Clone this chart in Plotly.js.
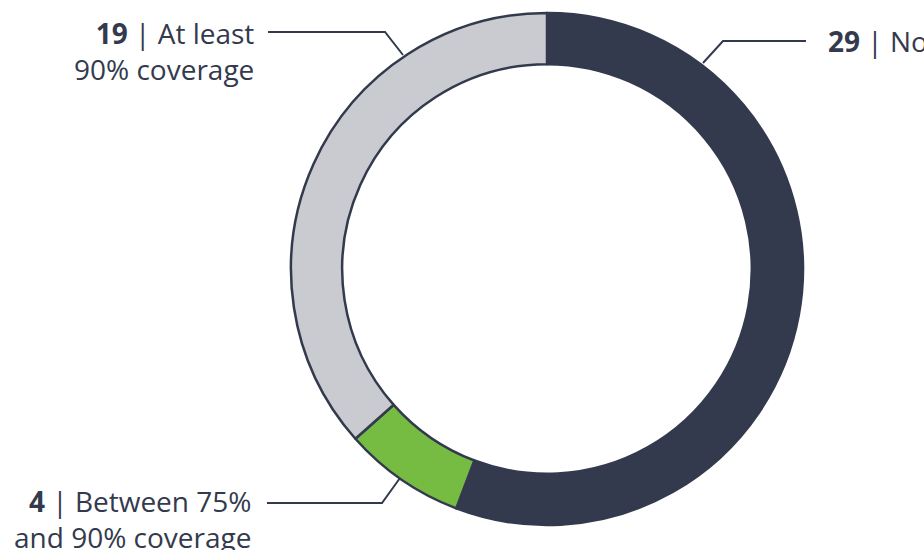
<!DOCTYPE html>
<html>
<head>
<meta charset="utf-8">
<script src="https://cdn.plot.ly/plotly-3.0.1.min.js"></script>
<style>
html, body { margin: 0; padding: 0; background: #ffffff; }
#chart { width: 924px; height: 550px; }
</style>
</head>
<body>
<div id="chart"></div>
<script>
// Data
const categories = ["No", "Between 75% and 90% coverage", "At least 90% coverage"];
const values = [29, 4, 19];
const colors = ["#333a4d", "#76bc43", "#c9cbd0"];
const labelTexts = [
  "<b>29</b> | No",
  "<b>4</b> | Between 75%<br>and 90% coverage",
  "<b>19</b> | At least<br>90% coverage"
];

const W = 924, H = 550;
const px = x => x / W;
const py = y => 1 - y / H;
const textColor = "#333a4d";
const FONT = "Open Sans, Noto Sans, sans-serif";

const trace = {
  type: "pie",
  labels: categories,
  values: values,
  sort: false,
  direction: "clockwise",
  rotation: 0,
  hole: 0.8,
  textinfo: "none",
  hoverinfo: "label+value",
  marker: { colors: colors, line: { color: "#333a4d", width: 2.5 } },
  domain: { x: [px(291), px(803)], y: [py(525), py(13)] },
  showlegend: false
};

function path(points) {
  return points.map((p, i) => (i ? "L" : "M") + px(p[0]).toFixed(5) + "," + py(p[1]).toFixed(5)).join(" ");
}

const lineStyle = { color: "#333a4d", width: 2 };
const shapes = [
  { type: "path", xref: "paper", yref: "paper", path: path([[268, 32], [385, 32], [403, 55]]), line: lineStyle },
  { type: "path", xref: "paper", yref: "paper", path: path([[806, 41], [723, 41], [703, 63]]), line: lineStyle },
  { type: "path", xref: "paper", yref: "paper", path: path([[267, 503], [382, 503], [400, 478]]), line: lineStyle }
];

const annFont = { family: FONT, size: 28, color: textColor };
const annotations = [
  { text: labelTexts[0], xref: "paper", yref: "paper", x: px(826), y: py(41), xanchor: "left", yanchor: "middle", align: "left", showarrow: false, font: annFont },
  { text: labelTexts[1], xref: "paper", yref: "paper", x: px(253), y: py(519), xanchor: "right", yanchor: "middle", align: "right", showarrow: false, font: annFont },
  { text: labelTexts[2], xref: "paper", yref: "paper", x: px(256), y: py(51), xanchor: "right", yanchor: "middle", align: "right", showarrow: false, font: annFont }
];

const layout = {
  width: W, height: H,
  margin: { l: 0, r: 0, t: 0, b: 0 },
  paper_bgcolor: "#ffffff",
  plot_bgcolor: "#ffffff",
  shapes: shapes,
  annotations: annotations,
  showlegend: false
};

Plotly.newPlot("chart", [trace], layout, { displayModeBar: false, staticPlot: true });
</script>
</body>
</html>
